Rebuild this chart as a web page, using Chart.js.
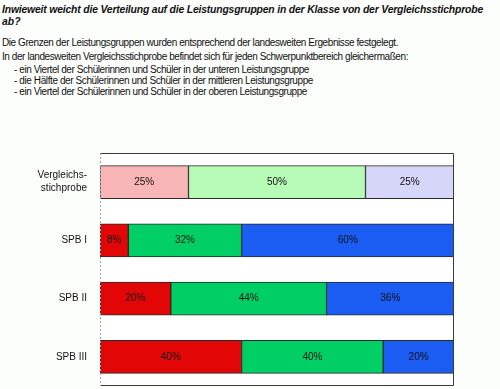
<!DOCTYPE html>
<html><head><meta charset="utf-8">
<script src="https://cdn.jsdelivr.net/npm/chart.js@4.4.0/dist/chart.umd.min.js"></script>
<style>
html,body{margin:0;padding:0;background:#fcfefc;width:500px;height:389px;overflow:hidden;font-family:"Liberation Sans",Arial,sans-serif;color:#111;}
.t{position:absolute;white-space:nowrap;line-height:12px;}
.h{font-weight:bold;font-style:italic;font-size:10.4px;left:2px;}
.b{font-size:10px;left:2px;}
#wrap{position:absolute;left:0;top:152px;width:455px;height:234px;}
</style></head><body>
<div class="t h" style="top:4px" data-r="483">Inwieweit weicht die Verteilung auf die Leistungsgruppen in der Klasse von der Vergleichsstichprobe</div>
<div class="t h" style="top:16px">ab?</div>
<div class="t b" style="top:37px" data-r="398">Die Grenzen der Leistungsgruppen wurden entsprechend der landesweiten Ergebnisse festgelegt.</div>
<div class="t b" style="top:51px" data-r="408">In der landesweiten Vergleichsstichprobe befindet sich für jeden Schwerpunktbereich gleichermaßen:</div>
<div class="t b" style="top:64px;left:14px" data-r="309">- ein Viertel der Schülerinnen und Schüler in der unteren Leistungsgruppe</div>
<div class="t b" style="top:75px;left:14px" data-r="313">- die Hälfte der Schülerinnen und Schüler in der mittleren Leistungsgruppe</div>
<div class="t b" style="top:86px;left:14px" data-r="307">- ein Viertel der Schülerinnen und Schüler in der oberen Leistungsgruppe</div>
<div id="wrap"><canvas id="c"></canvas></div>
<script>
// fit text lines to the reference line widths
document.querySelectorAll('[data-r]').forEach(el => {
  const r = el.getBoundingClientRect();
  const target = +el.dataset.r - r.left;
  const n = el.textContent.length;
  el.style.letterSpacing = ((target - r.width) / n) + 'px';
});

const categories = [["Vergleichs-","stichprobe"], "SPB I", "SPB II", "SPB III"];
const lowerGroup  = [25, 8, 20, 40];
const middleGroup = [50, 32, 44, 40];
const upperGroup  = [25, 60, 36, 20];

const lowerColors  = ["#f8b6b6", "#e20606", "#e20606", "#e20606"];
const middleColors = ["#b6fcb6", "#00cf66", "#00cf66", "#00cf66"];
const upperColors  = ["#d6d7f8", "#1b5cf3", "#1b5cf3", "#1b5cf3"];

const frame = {
  id: 'frame',
  beforeDatasetsDraw(chart) {
    const {ctx, chartArea: a} = chart;
    ctx.save();
    ctx.fillStyle = '#ffffff';
    ctx.fillRect(a.left, a.top, a.right - a.left, a.bottom - a.top);
    ctx.restore();
  },
  afterDatasetsDraw(chart) {
    const {ctx, chartArea: a} = chart;
    ctx.save();
    ctx.lineWidth = 1;
    ctx.strokeStyle = '#3a3a3a';
    ctx.beginPath();
    ctx.moveTo(a.left, a.top + 0.5);
    ctx.lineTo(a.right - 0.5, a.top + 0.5);
    ctx.lineTo(a.right - 0.5, a.bottom - 0.5);
    ctx.lineTo(a.left, a.bottom - 0.5);
    ctx.stroke();
    ctx.strokeStyle = '#a0a0a0';
    ctx.setLineDash([2, 2]);
    ctx.beginPath();
    ctx.moveTo(a.left + 0.5, a.top);
    ctx.lineTo(a.left + 0.5, a.bottom);
    ctx.stroke();
    ctx.restore();
    ctx.save();
    ctx.font = '10px "Liberation Sans", Arial, sans-serif';
    ctx.fillStyle = '#111';
    ctx.textAlign = 'center';
    ctx.textBaseline = 'middle';
    chart.data.datasets.forEach((ds, i) => {
      chart.getDatasetMeta(i).data.forEach((bar, j) => {
        const cx = (bar.x + bar.base) / 2;
        ctx.fillText(ds.data[j] + '%', cx, bar.y);
      });
    });
    ctx.restore();
  }
};

new Chart(document.getElementById('c'), {
  type: 'bar',
  data: {
    labels: categories,
    datasets: [
      {label: 'untere', data: lowerGroup, backgroundColor: lowerColors},
      {label: 'mittlere', data: middleGroup, backgroundColor: middleColors},
      {label: 'obere', data: upperGroup, backgroundColor: upperColors}
    ]
  },
  options: {
    indexAxis: 'y',
    responsive: true,
    maintainAspectRatio: false,
    animation: false,
    layout: {padding: {top: 1, right: 1, bottom: 0, left: 0}},
    datasets: {bar: {barThickness: 33, borderWidth: 1, borderColor: '#2a2a2a', borderSkipped: false}},
    plugins: {legend: {display: false}, tooltip: {enabled: false}},
    scales: {
      x: {stacked: true, min: 0, max: 100, display: false},
      y: {
        stacked: true,
        grid: {display: false},
        border: {display: false},
        ticks: {color: '#111', padding: 5, font: {family: '"Liberation Sans", Arial, sans-serif', size: 10, lineHeight: 1.3}},
        afterFit(scale) { scale.width = 100; scale.paddingTop = 0; scale.paddingBottom = 0; }
      }
    }
  },
  plugins: [frame]
});
</script>
</body></html>
